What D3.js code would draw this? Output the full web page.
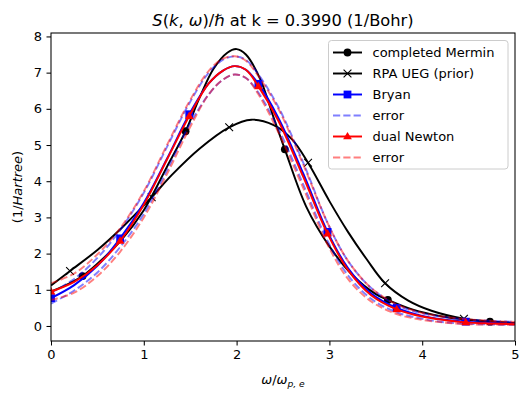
<!DOCTYPE html>
<html><head><meta charset="utf-8">
<script src="https://cdn.jsdelivr.net/npm/d3@7"></script>
<style>body{margin:0;background:#fff}svg{display:block;font-family:"DejaVu Sans",sans-serif}</style>
</head><body><svg id="c" width="529" height="399"></svg>
<script>
// ---- data ----
const xTicks = [0,1,2,3,4,5];
const yTicks = [0,1,2,3,4,5,6,7,8];
const legendLabels = ["completed Mermin","RPA UEG (prior)","Bryan","error","dual Newton","error"];

const merminW = [0,0.2,0.34,0.5,0.75,1.0,1.25,1.45,1.6,1.75,1.9,2.0,2.1,2.25,2.4,2.52,2.75,3.0,3.25,3.5,3.63,3.9,4.2,4.5,4.73,5.0];
const merminS = [0.95,1.18,1.38,1.72,2.35,3.2,4.4,5.38,6.3,7.1,7.55,7.65,7.5,6.85,5.75,4.88,3.3,2.2,1.4,0.88,0.72,0.45,0.27,0.17,0.12,0.08];
const merminMarks = [0.34,1.45,2.52,3.63,4.73];

const rpaW = [0,0.205,0.5,0.75,1.085,1.3,1.6,1.92,2.16,2.4,2.6,2.77,3.0,3.2,3.4,3.6,3.85,4.1,4.45,4.75,5.0];
const rpaS = [1.12,1.52,2.1,2.68,3.56,4.17,4.9,5.49,5.7,5.55,5.15,4.51,3.45,2.6,1.85,1.18,0.7,0.42,0.2,0.12,0.08];
const rpaMarks = [0.205,1.085,1.92,2.77,3.6,4.45];

const invW = [0,0.25,0.5,0.745,1.0,1.25,1.49,1.7,1.85,1.98,2.1,2.235,2.45,2.72,2.98,3.2,3.45,3.725,4.0,4.25,4.47,4.75,5.0];
const invMarks = [0,0.745,1.49,2.235,2.98,3.725,4.47];

const bryanS  = [0.77,1.13,1.66,2.42,3.4,4.62,5.85,6.7,7.05,7.18,7.08,6.69,5.75,4.2,2.6,1.6,0.9,0.5,0.28,0.17,0.12,0.08,0.06];
const bryanHi = [0.92,1.3,1.88,2.65,3.68,4.95,6.15,7.0,7.35,7.45,7.35,6.95,6.05,4.5,2.85,1.8,1.05,0.58,0.35,0.24,0.18,0.14,0.11];
const bryanLo = [0.62,0.98,1.48,2.18,3.1,4.3,5.55,6.4,6.8,6.95,6.85,6.45,5.45,3.9,2.35,1.4,0.75,0.38,0.2,0.1,0.06,0.04,0.03];

const newtonS  = [0.95,1.22,1.68,2.35,3.35,4.6,5.8,6.7,7.05,7.18,7.08,6.62,5.67,4.11,2.55,1.55,0.85,0.46,0.26,0.16,0.1,0.07,0.05];
const newtonHi = [1.18,1.45,1.98,2.7,3.72,5.0,6.2,7.05,7.38,7.45,7.33,6.9,6.0,4.45,2.85,1.8,1.05,0.6,0.36,0.25,0.19,0.14,0.11];
const newtonLo = [0.72,0.92,1.38,2.05,3.0,4.2,5.45,6.4,6.8,6.95,6.85,6.4,5.35,3.8,2.25,1.3,0.68,0.33,0.17,0.09,0.05,0.04,0.03];

// ---- drawing ----
const svg = d3.select("#c");
const L=51, R=515, T=33, B=341;
const x = d3.scaleLinear().domain([0,5]).range([L,R]);
const y = d3.scaleLinear().domain([-0.415,8.095]).range([B,T]);
const lw = 1.95;
const dash = "7.2,3.1";

const pts = (w,s)=>w.map((d,i)=>[d,s[i]]);
const line = d3.line().x(d=>x(d[0])).y(d=>y(d[1])).curve(d3.curveCatmullRom.alpha(0.5));

svg.append("defs").append("clipPath").attr("id","clp")
  .append("rect").attr("x",L).attr("y",T).attr("width",R-L).attr("height",B-T);
const plot = svg.append("g").attr("clip-path","url(#clp)");

function marker(g, type, cx, cy, color){
  if(type==="circle"){
    g.append("circle").attr("cx",cx).attr("cy",cy).attr("r",3.9).attr("fill",color);
  } else if(type==="square"){
    g.append("rect").attr("x",cx-3.9).attr("y",cy-3.9).attr("width",7.8).attr("height",7.8).attr("fill",color);
  } else if(type==="tri"){
    const r=4.6;
    g.append("path").attr("d",`M${cx},${cy-r}L${cx+r*0.95},${cy+r*0.62}L${cx-r*0.95},${cy+r*0.62}Z`).attr("fill",color);
  } else if(type==="x"){
    const r=3.9;
    g.append("path").attr("d",`M${cx-r},${cy-r}L${cx+r},${cy+r}M${cx-r},${cy+r}L${cx+r},${cy-r}`)
      .attr("stroke",color).attr("stroke-width",1.1).attr("fill","none");
  }
}

function series(w,s,color,opts){
  const g = plot.append("g");
  g.append("path").attr("d",line(pts(w,s))).attr("fill","none").attr("stroke",color)
    .attr("stroke-width",lw).attr("stroke-opacity",opts.alpha||1)
    .attr("stroke-dasharray",opts.dash||null).attr("stroke-linejoin","round");
  if(opts.marks){
    opts.marks.forEach(m=>{
      const i = w.indexOf(m);
      marker(g, opts.type, x(w[i]), y(s[i]), color);
    });
  }
}

series(merminW, merminS, "#000", {marks:merminMarks, type:"circle"});
series(rpaW, rpaS, "#000", {marks:rpaMarks, type:"x"});
series(invW, bryanS, "#0000ff", {marks:invMarks, type:"square"});
series(invW, bryanHi, "#0000ff", {alpha:0.5, dash:dash});
series(invW, bryanLo, "#0000ff", {alpha:0.5, dash:dash});
series(invW, newtonS, "#ff0000", {marks:invMarks, type:"tri"});
series(invW, newtonHi, "#ff0000", {alpha:0.5, dash:dash});
series(invW, newtonLo, "#ff0000", {alpha:0.5, dash:dash});

// axes
const fs = 13;
const xa = svg.append("g").attr("transform",`translate(0,${B})`)
  .call(d3.axisBottom(x).tickValues(xTicks).tickFormat(d3.format("d")).tickSize(4.5).tickPadding(4.5));
const ya = svg.append("g").attr("transform",`translate(${L},0)`)
  .call(d3.axisLeft(y).tickValues(yTicks).tickFormat(d3.format("d")).tickSize(4.5).tickPadding(4.5));
[xa,ya].forEach(a=>{
  a.select(".domain").remove();
  a.selectAll("line").attr("stroke","#000").attr("stroke-width",1.05);
  a.selectAll("text").attr("font-size",fs).attr("font-family","DejaVu Sans").attr("fill","#000");
});
svg.append("rect").attr("x",L).attr("y",T).attr("width",R-L).attr("height",B-T)
  .attr("fill","none").attr("stroke","#000").attr("stroke-width",1.05);

// title
const title = svg.append("text").attr("x",(L+R)/2).attr("y",26).attr("text-anchor","middle").attr("font-size",16.3);
[["S",1],["(",0],["k",1],[", ",0],["ω",1],[")/",0],["ℏ",1],[" at k = 0.3990 (1/Bohr)",0]].forEach(([t,it])=>{
  title.append("tspan").text(t).attr("font-style",it?"italic":"normal");
});

// x label
const xl = svg.append("text").attr("x",(L+R)/2).attr("y",384).attr("text-anchor","middle").attr("font-size",fs);
xl.append("tspan").text("ω").attr("font-style","italic");
xl.append("tspan").text("/");
xl.append("tspan").text("ω").attr("font-style","italic");
xl.append("tspan").text("p, e").attr("font-style","italic").attr("font-size",9.2).attr("dy",3);

// y label
const yl = svg.append("text").attr("transform",`translate(22,${(T+B)/2}) rotate(-90)`).attr("text-anchor","middle").attr("font-size",fs);
yl.append("tspan").text("(1/");
yl.append("tspan").text("Hartree").attr("font-style","italic");
yl.append("tspan").text(")");

// legend
const lg = svg.append("g");
lg.append("rect").attr("x",328.5).attr("y",40.5).attr("width",179.5).attr("height",128.5).attr("rx",3)
  .attr("fill","#fff").attr("fill-opacity",0.8).attr("stroke","#cccccc").attr("stroke-width",1);
const legendStyles = [
  {c:"#000",t:"circle"},{c:"#000",t:"x"},{c:"#0000ff",t:"square"},
  {c:"#0000ff",a:0.5,d:dash},{c:"#ff0000",t:"tri"},{c:"#ff0000",a:0.5,d:dash}
];
legendLabels.forEach((lab,i)=>{
  const yy = 52.5 + i*21;
  const st = legendStyles[i];
  lg.append("line").attr("x1",333).attr("x2",362).attr("y1",yy).attr("y2",yy)
    .attr("stroke",st.c).attr("stroke-width",lw).attr("stroke-opacity",st.a||1).attr("stroke-dasharray",st.d||null);
  if(st.t) marker(lg, st.t, 347.5, yy, st.c);
  lg.append("text").attr("x",372.5).attr("y",yy+4.6).attr("font-size",fs).text(lab);
});
</script></body></html>
